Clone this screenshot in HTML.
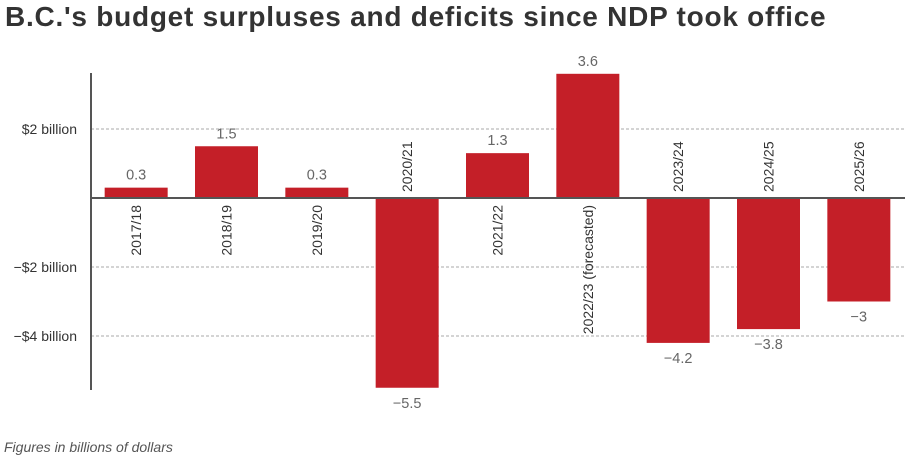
<!DOCTYPE html>
<html><head><meta charset="utf-8"><style>
body{margin:0;background:#fff;width:911px;height:461px;overflow:hidden;font-family:"Liberation Sans",sans-serif}
#title{position:absolute;left:5px;top:1px;font-size:28px;font-weight:bold;color:#333;letter-spacing:0.75px}
#foot{position:absolute;left:4px;top:439px;font-size:14px;font-style:italic;color:#555}
svg{position:absolute;left:0;top:0}
</style></head><body>
<div id="title">B.C.'s budget surpluses and deficits since NDP took office</div>
<svg id="chart" width="911" height="461"></svg>
<div id="foot">Figures in billions of dollars</div>
<script>
const categories=["2017/18","2018/19","2019/20","2020/21","2021/22","2022/23 (forecasted)","2023/24","2024/25","2025/26"];
const values=[0.3,1.5,0.3,-5.5,1.3,3.6,-4.2,-3.8,-3];
const valueLabels=["0.3","1.5","0.3","\u22125.5","1.3","3.6","\u22124.2","\u22123.8","\u22123"];
const tickValues=[2,-2,-4];
const tickLabels=["$2 billion","\u2212$2 billion","\u2212$4 billion"];
const NS="http://www.w3.org/2000/svg";
const svg=document.getElementById('chart');
const x0=91,x1=904,zeroY=198,pxPer=34.5;
const y=v=>zeroY-v*pxPer;
const step=(x1-x0)/categories.length,bw=63;
const bx=i=>x0+step*i+(step-bw)/2;
function mk(t,a,txt){const e=document.createElementNS(NS,t);for(const k in a)e.setAttribute(k,a[k]);if(txt!=null)e.textContent=txt;svg.appendChild(e);return e;}
tickValues.forEach((v,i)=>{
 const g=mk('line',{x1:x0,x2:905,y1:y(v),y2:y(v),stroke:'#aaa','stroke-dasharray':'3,2','stroke-width':1});
 
 
 const t=mk('text',{x:77,y:y(v)+5,'text-anchor':'end','font-size':14,fill:'#333'},tickLabels[i]);
 
 
});
values.forEach((v,i)=>{
 const top=Math.min(y(v),zeroY),h=Math.abs(y(v)-zeroY);
 const r=mk('rect',{x:bx(i),y:top,width:bw,height:h,fill:'#c41f28'});
 
 
 const cx=bx(i)+bw/2;
 const vl=mk('text',{x:cx,y:v>=0?y(v)-8:y(v)+20,'text-anchor':'middle','font-size':14.5,fill:'#666'},valueLabels[i]);
 
 
 let ty=v>=0?zeroY+7:zeroY-6;
 const cl=mk('text',{x:0,y:0,'text-anchor':v>=0?'end':'start','font-size':14,fill:'#333',transform:`translate(${cx+5},${ty}) rotate(-90)`},categories[i]);
 
 
});
const za=mk('line',{x1:x0,x2:905,y1:zeroY,y2:zeroY,stroke:'#555','stroke-width':2});


const ya=mk('line',{x1:x0,x2:x0,y1:73,y2:390,stroke:'#555','stroke-width':2});


</script>
</body></html>
